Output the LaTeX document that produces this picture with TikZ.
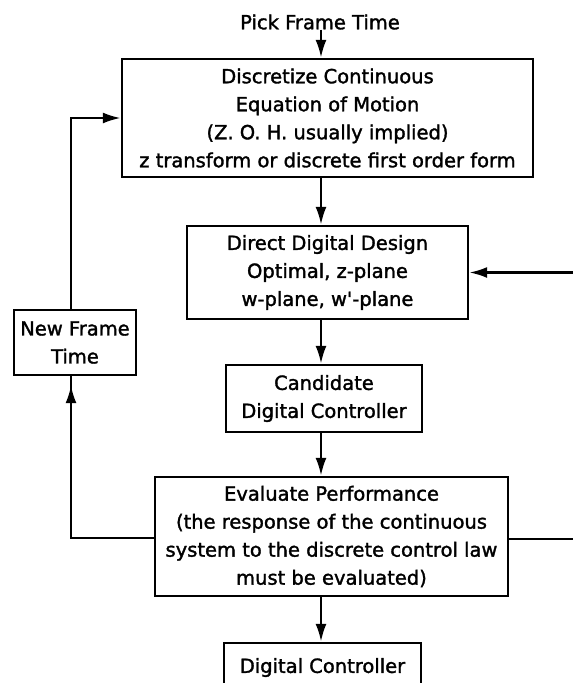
\documentclass[tikz,border=0pt]{standalone}
\usepackage{fontspec}
\setmainfont{DejaVu Sans}
\newfontfamily\medfont{DejaVu Sans}[FakeBold=1.6]
\usetikzlibrary{arrows.meta}
\begin{document}
\begin{tikzpicture}[x=1pt,y=-1pt,
  box/.style={draw,line width=2.4pt,align=center,inner sep=0pt,font=\fontsize{19.5}{28}\medfont},
  lbl/.style={font=\fontsize{19.5}{28}\medfont,inner sep=0pt},
  line/.style={line width=2.4pt},
  arr/.style={line width=2.4pt,-{Latex[length=18pt,width=11pt]}}]
\useasboundingbox (0,0) rectangle (573,683);
\node[lbl] (pick) at (320,22) {Pick Frame Time};
\node[box,minimum width=411pt,minimum height=118pt] (b1) at (327.5,118)
  {Discretize Continuous\\Equation of Motion\\(Z. O. H. usually implied)\\z transform or discrete first order form};
\node[box,minimum width=281pt,minimum height=93pt] (b2) at (327.5,272.5)
  {Direct Digital Design\\Optimal, z-plane\\w-plane, w\textquotesingle-plane};
\node[box,minimum width=122pt,minimum height=65pt] (b3) at (75,342.5)
  {New Frame\\Time};
\node[box,minimum width=196pt,minimum height=67pt] (b4) at (324,398.5)
  {Candidate\\Digital Controller};
\node[box,minimum width=353pt,minimum height=119pt] (b5) at (331.5,536.5)
  {Evaluate Performance\\(the response of the continuous\\system to the discrete control law\\must be evaluated)};
\node[box,minimum width=197pt,minimum height=49pt] (b6) at (322.5,667.5)
  {Digital Controller};
\coordinate (ax) at (321,0);
\coordinate (L) at (71,538);
\coordinate (R) at (578,539);
\draw[arr] (pick.south -| ax) -- (b1.north -| ax);
\draw[arr] (b1.south -| ax) -- (b2.north -| ax);
\draw[arr] (b2.south -| ax) -- (b4.north -| ax);
\draw[arr] (b4.south -| ax) -- (b5.north -| ax);
\draw[arr] (b5.south -| ax) -- (b6.north -| ax);
\draw[line] (b5.west |- L) -- (L) -- (b3.south -| L);
\draw[arr] (L) -- ([yshift=-9pt]b3.south -| L);
\draw[arr] (b3.north -| L) |- (b1.west);
\draw[arr] (b5.east |- R) -- (R) |- (b2.east);
\end{tikzpicture}
\end{document}
